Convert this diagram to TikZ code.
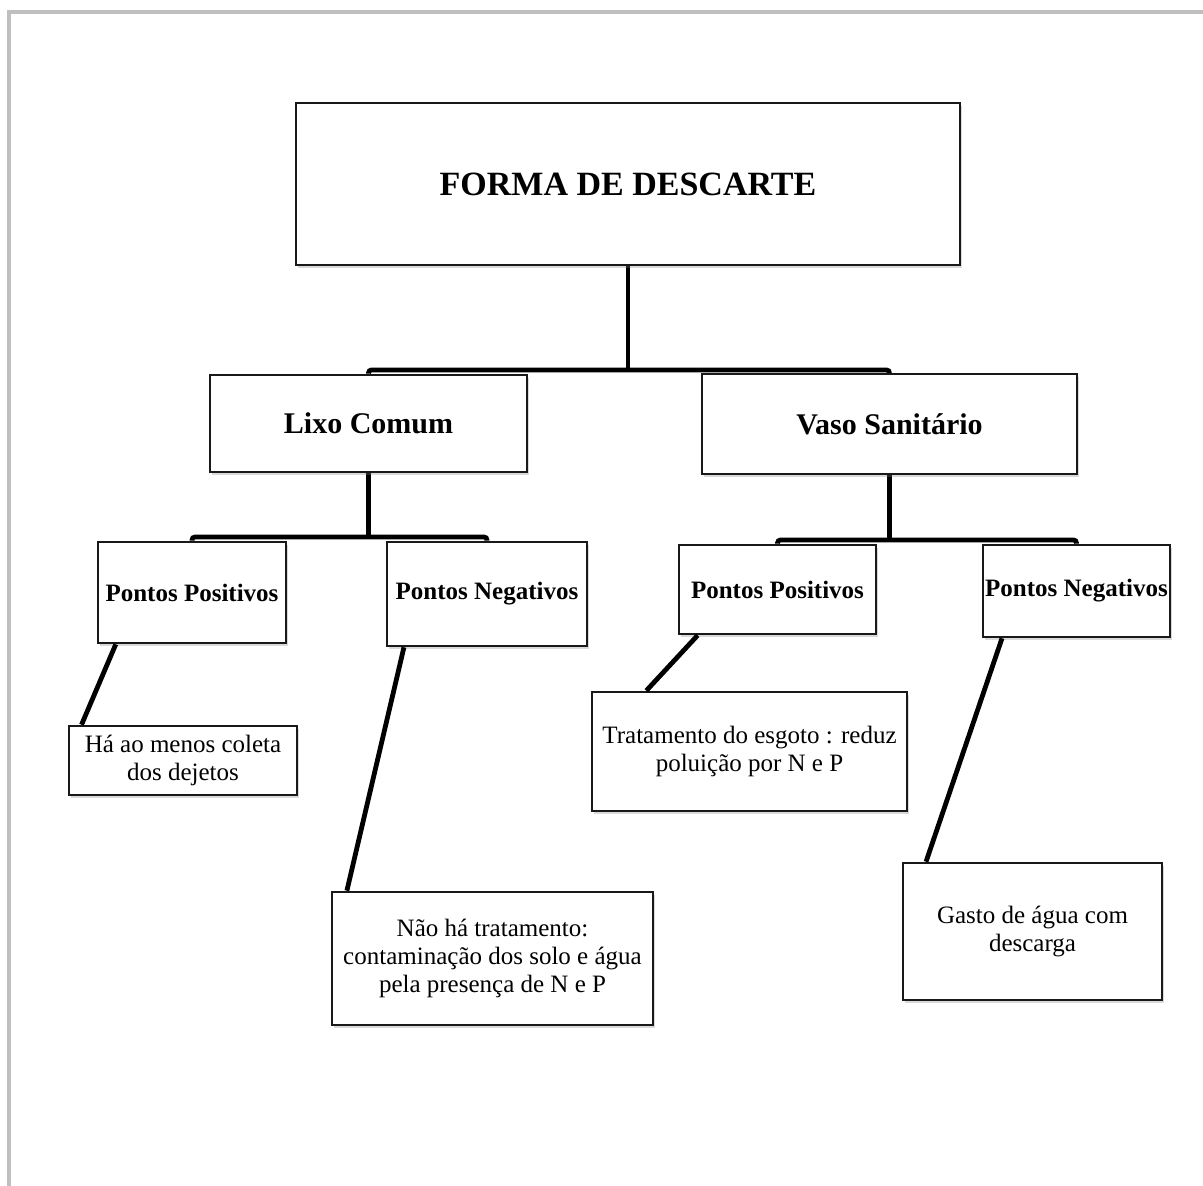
\documentclass[tikz,border=0pt]{standalone}
\usepackage{fontspec}
\setmainfont{Liberation Serif}
\usetikzlibrary{calc}
\usetikzlibrary{shadows}
\usetikzlibrary{backgrounds}

\begin{document}
\begin{tikzpicture}[x=0.5pt,y=-0.5pt,
        box/.style={draw=black!90,line width=1.3pt,fill=white,inner sep=0pt,align=center,
            drop shadow={shadow xshift=1.2pt,shadow yshift=-1.5pt,opacity=0.3}},
        titulo/.style={font=\fontsize{17}{20}\selectfont\bfseries},
        ramo/.style={font=\fontsize{15}{18}\selectfont\bfseries},
        ponto/.style={font=\fontsize{12.5}{14}\selectfont\bfseries},
        nota/.style={font=\fontsize{12.5}{14}\selectfont},
        conn/.style={line width=2.4pt,rounded corners=1.5pt},
        leg/.style={line width=2.4pt}]
        \useasboundingbox (0,0) rectangle (1203,1186);
        \draw[line width=2pt,black!25] (9,1186) -- (9,12) -- (1203,12);

        \node[box,titulo,minimum width=332pt,minimum height=81pt] (forma) at (628,184) {FORMA DE DESCARTE};
        \node[box,ramo,minimum width=158.5pt,minimum height=48.5pt] (lixo) at (368.5,423.5) {Lixo Comum};
        \node[box,ramo,minimum width=187.5pt,minimum height=50pt] (vaso) at (889.5,424) {Vaso Sanitário};

        \node[box,ponto,minimum width=94pt,minimum height=50.5pt] (lixo_pos) at (192,592.5) {Pontos Positivos};
        \node[box,ponto,minimum width=100pt,minimum height=52pt] (lixo_neg) at (487,594) {Pontos Negativos};
        \node[box,ponto,minimum width=98.5pt,minimum height=44.5pt] (vaso_pos) at (777.5,589.5) {Pontos Positivos};
        \node[box,ponto,minimum width=93.5pt,minimum height=46pt] (vaso_neg) at (1076.5,591) {Pontos Negativos};

        \node[box,nota,minimum width=114pt,minimum height=34.5pt] (lixo_pos_t) at (183,760.5) {Há ao menos coleta\\dos dejetos};
        \node[box,nota,minimum width=160.5pt,minimum height=66.5pt] (lixo_neg_t) at (492.5,958.5) {Não há tratamento:\\contaminação dos solo e água\\pela presença de N e P};
        \node[box,nota,minimum width=157.5pt,minimum height=59.5pt] (vaso_pos_t) at (749.5,751.5) {Tratamento do esgoto : reduz\\poluição por N e P};
        \node[box,nota,minimum width=129.5pt,minimum height=68.5pt] (vaso_neg_t) at (1032.5,931.5) {Gasto de água com\\descarga};

        \coordinate (bar_0) at (628,370);
        \coordinate (bar_1) at (368.5,537);
        \coordinate (bar_2) at (889.5,540);

        % tree, behind the boxes
        \begin{scope}[on background layer]
            \draw[conn] (forma) -- (bar_0);
            \draw[conn] (lixo) |- (bar_0) -| (vaso);
            \draw[conn] (lixo) -- (bar_1);
            \draw[conn] (lixo_pos) |- (bar_1) -| (lixo_neg);
            \draw[conn] (vaso) -- (bar_2);
            \draw[conn] (vaso_pos) |- (bar_2) -| (vaso_neg);
        \end{scope}

        % notes
        \draw[leg] ($(lixo_pos.south west)!0.10!(lixo_pos.south east)$) -- ($(lixo_pos_t.north west)!0.06!(lixo_pos_t.north east)$);
        \draw[leg] ($(lixo_neg.south west)!0.09!(lixo_neg.south east)$) -- ($(lixo_neg_t.north west)!0.05!(lixo_neg_t.north east)$);
        \draw[leg] ($(vaso_pos.south west)!0.10!(vaso_pos.south east)$) -- ($(vaso_pos_t.north west)!0.175!(vaso_pos_t.north east)$);
        \draw[leg] ($(vaso_neg.south west)!0.107!(vaso_neg.south east)$) -- ($(vaso_neg_t.north west)!0.093!(vaso_neg_t.north east)$);
    \end{tikzpicture}
\end{document}
